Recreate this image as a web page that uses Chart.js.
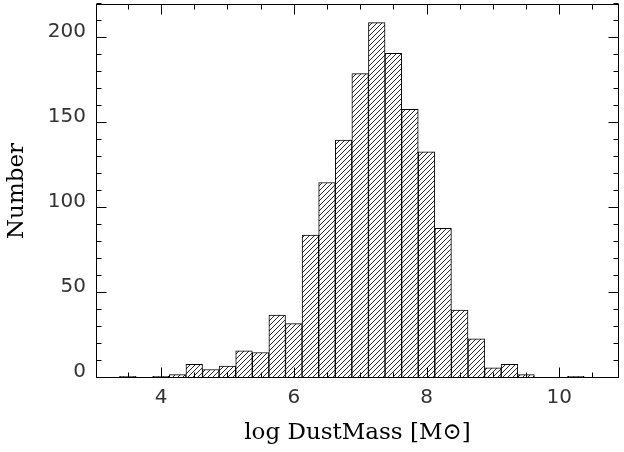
<!DOCTYPE html>
<html><head><meta charset="utf-8">
<script src="https://cdn.jsdelivr.net/npm/chart.js@4/dist/chart.umd.min.js"></script>
<style>html,body{margin:0;padding:0;background:#fff}#wrap{width:624px;height:452px}</style>
</head><body><div id="wrap"><canvas id="c" width="624" height="452"></canvas></div>
<script>
// bin centres (log dust mass) and counts
const binCenters = [3.5, 3.75, 4.0, 4.25, 4.5, 4.75, 5.0, 5.25, 5.5, 5.75, 6.0, 6.25, 6.5, 6.75,
                    7.0, 7.25, 7.5, 7.75, 8.0, 8.25, 8.5, 8.75, 9.0, 9.25, 9.5, 9.75, 10.0, 10.25];
const counts     = [1, 0, 1, 2, 8, 5, 7, 16, 15, 37, 32, 84, 115, 140,
                    179, 209, 191, 158, 133, 88, 40, 23, 6, 8, 2, 0, 0, 1];
const xTickValues = [4, 6, 8, 10];
const yTickValues = [0, 50, 100, 150, 200];
const xTitle = 'log DustMass [M\u2299]';
const yTitle = 'Number';

function hatchPattern() {
  const p = 5;
  const c = document.createElement('canvas');
  c.width = p; c.height = p;
  const g = c.getContext('2d');
  g.fillStyle = '#fff'; g.fillRect(0, 0, p, p);
  g.strokeStyle = '#111'; g.lineWidth = 0.9;
  g.beginPath();
  g.moveTo(-1, p + 1); g.lineTo(p + 1, -1);
  g.moveTo(-1, 1); g.lineTo(1, -1);
  g.moveTo(p - 1, p + 1); g.lineTo(p + 1, p - 1);
  g.stroke();
  return g.createPattern(c, 'repeat');
}

const frameTicks = {
  id: 'frameTicks',
  afterDatasetsDraw(chart) {
    const {ctx, chartArea: a, scales: {x, y}} = chart;
    ctx.save();
    ctx.strokeStyle = '#000';
    ctx.lineWidth = 1;
    const L = Math.round(a.left) + 0.5, R = Math.round(a.right) - 0.5;
    const T = Math.round(a.top) + 0.5, B = Math.round(a.bottom) - 0.5;
    ctx.strokeRect(L, T, R - L, B - T);
    ctx.beginPath();
    for (let k = Math.ceil(x.min * 2); k / 2 <= x.max; k++) {
      const v = k / 2;
      const len = xTickValues.includes(v) ? 10 : 5;
      const px = Math.round(x.getPixelForValue(v)) + 0.5;
      ctx.moveTo(px, B); ctx.lineTo(px, B - len);
      ctx.moveTo(px, T); ctx.lineTo(px, T + len);
    }
    for (let k = Math.ceil(y.min / 10); k * 10 <= y.max; k++) {
      const v = k * 10;
      const len = yTickValues.includes(v) ? 10 : 5;
      const py = Math.round(y.getPixelForValue(v)) - 0.5;
      ctx.moveTo(L, py); ctx.lineTo(L + len, py);
      ctx.moveTo(R, py); ctx.lineTo(R - len, py);
    }
    ctx.stroke();
    ctx.restore();
  }
};

new Chart(document.getElementById('c'), {
  type: 'bar',
  data: {
    datasets: [{
      data: binCenters.map((c, i) => ({x: c, y: counts[i]})),
      backgroundColor: hatchPattern(),
      borderColor: '#000',
      borderWidth: 1,
      borderSkipped: false,
      barPercentage: 1,
      categoryPercentage: 1
    }]
  },
  options: {
    responsive: false,
    devicePixelRatio: 1,
    animation: false,
    layout: {padding: {left: 0, right: 5, top: 4, bottom: 0}},
    plugins: {legend: {display: false}, tooltip: {enabled: false}},
    scales: {
      x: {
        type: 'linear',
        offset: false,
        min: 3.02, max: 10.9,
        afterBuildTicks: s => { s.ticks = xTickValues.map(v => ({value: v})); },
        afterFit: s => { s.height = 74; s.paddingLeft = 0; s.paddingRight = 0; },
        grid: {display: false, drawTicks: false, offset: false},
        border: {display: false},
        ticks: {padding: 8, color: '#333', font: {family: 'DejaVu Sans', size: 20}, maxRotation: 0,
                callback: v => String(v)},
        title: {display: true, text: xTitle, color: '#000',
                font: {family: 'DejaVu Serif', size: 23}, padding: {top: 0, bottom: 5}}
      },
      y: {
        type: 'linear',
        min: 0, max: 220,
        afterBuildTicks: s => { s.ticks = yTickValues.map(v => ({value: v})); },
        afterFit: s => { s.width = 96; s.paddingTop = 0; s.paddingBottom = 0; },
        grid: {display: false, drawTicks: false},
        border: {display: false},
        ticks: {padding: 10, color: '#333', labelOffset: -6, font: {family: 'DejaVu Sans', size: 20},
                callback: v => String(v)},
        title: {display: true, text: yTitle, color: '#000',
                font: {family: 'DejaVu Serif', size: 23}, padding: {top: 3, bottom: 0}}
      }
    }
  },
  plugins: [frameTicks]
});
</script>
</body></html>
